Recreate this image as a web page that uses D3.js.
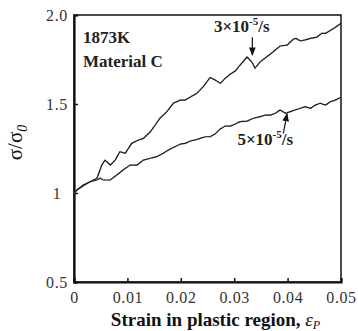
<!DOCTYPE html>
<html>
<head>
<meta charset="utf-8">
<script src="https://cdn.jsdelivr.net/npm/d3@7"></script>
<style>
  body { margin: 0; background: #fff; }
  #plot text { font-family: 'Liberation Serif', 'Times New Roman', serif; }
</style>
</head>
<body>
<div id="plot"></div>
<script>
// strain in plastic region and normalized stress
var strainA = [0, 0.0005, 0.0017, 0.0030, 0.0043, 0.0052, 0.0058, 0.0068, 0.0077, 0.0086, 0.0096, 0.0108, 0.0121, 0.0130,
  0.0143, 0.0152, 0.0161, 0.0174, 0.0186, 0.0199, 0.0208, 0.0218, 0.0230, 0.0242, 0.0255, 0.0264, 0.0274, 0.0283,
  0.0293, 0.0302, 0.0311, 0.0324, 0.0333, 0.0339, 0.0349, 0.0358, 0.0368, 0.0377, 0.0386, 0.0399, 0.0405, 0.0411,
  0.0416, 0.0424, 0.0433, 0.0443, 0.0455, 0.0464, 0.0471, 0.0480, 0.0489, 0.0500];
var stressA = [1.0, 1.017, 1.039, 1.063, 1.083, 1.157, 1.185, 1.157, 1.185, 1.232, 1.223, 1.279, 1.298, 1.307,
  1.344, 1.382, 1.420, 1.457, 1.504, 1.522, 1.522, 1.539, 1.560, 1.597, 1.649, 1.635, 1.616, 1.644,
  1.669, 1.685, 1.719, 1.764, 1.736, 1.702, 1.738, 1.758, 1.781, 1.803, 1.826, 1.831, 1.848, 1.865,
  1.868, 1.854, 1.860, 1.869, 1.876, 1.897, 1.897, 1.913, 1.930, 1.953];

var strainB = [0, 0.0002, 0.0017, 0.0030, 0.0043, 0.0049, 0.0055, 0.0068, 0.0080, 0.0092, 0.0105, 0.0118, 0.0130, 0.0143,
  0.0155, 0.0167, 0.0180, 0.0189, 0.0199, 0.0208, 0.0218, 0.0227, 0.0236, 0.0246, 0.0255, 0.0264, 0.0274, 0.0283,
  0.0293, 0.0302, 0.0311, 0.0324, 0.0336, 0.0349, 0.0358, 0.0368, 0.0377, 0.0386, 0.0396, 0.0405, 0.0414, 0.0424,
  0.0433, 0.0443, 0.0452, 0.0461, 0.0471, 0.0480, 0.0489, 0.0500];
var stressB = [1.0, 1.007, 1.045, 1.063, 1.073, 1.083, 1.073, 1.073, 1.101, 1.129, 1.157, 1.157, 1.185, 1.195,
  1.204, 1.223, 1.247, 1.260, 1.275, 1.279, 1.292, 1.298, 1.307, 1.316, 1.316, 1.331, 1.360, 1.376,
  1.376, 1.388, 1.401, 1.404, 1.420, 1.429, 1.438, 1.438, 1.448, 1.466, 1.448, 1.457, 1.466, 1.476,
  1.485, 1.476, 1.494, 1.504, 1.494, 1.513, 1.522, 1.538];

var xTicks = [0, 0.01, 0.02, 0.03, 0.04, 0.05];
var xTickLabels = ["0", "0.01", "0.02", "0.03", "0.04", "0.05"];
var yTicks = [0.5, 1, 1.5, 2.0];
var yTickLabels = ["0.5", "1", "1.5", "2.0"];

var serif = "'Liberation Serif', 'Times New Roman', serif";

var width = 358, height = 331;
var margin = {top: 15, right: 17, bottom: 49, left: 74};
var chartWidth = width - margin.left - margin.right;
var chartHeight = height - margin.top - margin.bottom;

var svg = d3.select("#plot").append("svg")
  .attr("width", width)
  .attr("height", height)
  .append("g")
  .attr("transform", "translate(" + margin.left + "," + margin.top + ")");

var scaleX = d3.scaleLinear().domain([0, 0.05]).range([0, chartWidth]);
var scaleY = d3.scaleLinear().domain([0.5, 2.0]).range([chartHeight, 0]);

// frame (top and right)
svg.append("rect")
  .attr("x", 0).attr("y", 0)
  .attr("width", chartWidth).attr("height", chartHeight)
  .attr("fill", "none").attr("stroke", "#111").attr("stroke-width", 1.5);

// x axis, ticks inward
var xAxis = svg.append("g")
  .attr("transform", "translate(0," + chartHeight + ")")
  .call(d3.axisBottom(scaleX).tickValues(xTicks).tickSize(-4).tickPadding(10)
    .tickFormat(function(d, i) { return xTickLabels[i]; }));
xAxis.select(".domain").attr("stroke", "#111").attr("stroke-width", 2.2);
xAxis.selectAll(".tick line").attr("stroke", "#111").attr("stroke-width", 1.5);
xAxis.selectAll("text")
  .style("font-family", serif).style("font-size", "16px")
  .attr("fill", "#333").attr("letter-spacing", "0.6px");

// y axis, ticks inward, labels centred
var yAxis = svg.append("g")
  .call(d3.axisLeft(scaleY).tickValues(yTicks).tickSize(-4)
    .tickFormat(function(d, i) { return yTickLabels[i]; }));
yAxis.select(".domain").attr("stroke", "#111").attr("stroke-width", 2.2);
yAxis.selectAll(".tick line").attr("stroke", "#111").attr("stroke-width", 1.5);
yAxis.selectAll("text")
  .attr("x", -17)
  .attr("text-anchor", "middle")
  .style("font-family", serif).style("font-size", "16px")
  .attr("fill", "#333").attr("letter-spacing", "0.6px");

// curves
var line = d3.line()
  .x(function(d) { return scaleX(d[0]); })
  .y(function(d) { return scaleY(d[1]); });

function draw(xs, ys) {
  var pts = xs.map(function(x, i) { return [x, ys[i]]; });
  svg.append("path").datum(pts)
    .attr("d", line)
    .attr("fill", "none")
    .attr("stroke", "#999")
    .attr("stroke-width", 1.6)
    .attr("stroke-dasharray", "1,1.5");
  svg.append("path").datum(pts)
    .attr("d", line)
    .attr("fill", "none")
    .attr("stroke", "#1a1a1a")
    .attr("stroke-width", 1.2);
}
draw(strainA, stressA);
draw(strainB, stressB);

// arrow marker
svg.append("defs").append("marker")
  .attr("id", "head")
  .attr("viewBox", "0 0 10 10")
  .attr("refX", 9).attr("refY", 5)
  .attr("markerWidth", 7).attr("markerHeight", 7)
  .attr("orient", "auto")
  .append("path").attr("d", "M0,1 L10,5 L0,9 Z").attr("fill", "#111");

// annotations
svg.append("text").attr("x", 9).attr("y", 28).attr("fill", "#222")
  .style("font-family", serif).style("font-size", "17px").style("font-weight", "bold").text("1873K");
svg.append("text").attr("x", 9).attr("y", 52).attr("fill", "#222")
  .style("font-family", serif).style("font-size", "17px").style("font-weight", "bold").text("Material C");

var lblA = svg.append("text").attr("x", scaleX(0.0262)).attr("y", scaleY(1.905)).attr("fill", "#222")
  .style("font-family", serif).style("font-size", "17px").style("font-weight", "bold");
lblA.append("tspan").text("3×10");
lblA.append("tspan").attr("dy", -7).style("font-size", "11px").text("-5");
lblA.append("tspan").attr("dy", 7).text("/s");
svg.append("line")
  .attr("x1", scaleX(0.0334)).attr("y1", scaleY(1.875))
  .attr("x2", scaleX(0.0334)).attr("y2", scaleY(1.775))
  .attr("stroke", "#111").attr("stroke-width", 1.2)
  .attr("marker-end", "url(#head)");

var lblB = svg.append("text").attr("x", scaleX(0.0306)).attr("y", scaleY(1.27)).attr("fill", "#222")
  .style("font-family", serif).style("font-size", "17px").style("font-weight", "bold");
lblB.append("tspan").text("5×10");
lblB.append("tspan").attr("dy", -7).style("font-size", "11px").text("-5");
lblB.append("tspan").attr("dy", 7).text("/s");
svg.append("line")
  .attr("x1", scaleX(0.0392)).attr("y1", scaleY(1.335))
  .attr("x2", scaleX(0.0399)).attr("y2", scaleY(1.445))
  .attr("stroke", "#111").attr("stroke-width", 1.2)
  .attr("marker-end", "url(#head)");

// axis titles
var xt = svg.append("text")
  .attr("x", chartWidth / 2 + 8).attr("y", chartHeight + 44)
  .attr("text-anchor", "middle").attr("fill", "#111")
  .style("font-family", serif).style("font-size", "19px").style("font-weight", "bold");
xt.append("tspan").text("Strain in plastic region, ");
xt.append("tspan").style("font-style", "italic").style("font-weight", "normal").text("ε");
xt.append("tspan").attr("dy", 3).style("font-size", "12px").style("font-style", "italic").style("font-weight", "normal").text("P");

var yt = svg.append("text")
  .attr("transform", "translate(-52," + (chartHeight / 2 - 6) + ") rotate(-90)")
  .attr("text-anchor", "middle").attr("fill", "#111")
  .style("font-family", serif).style("font-size", "21px");
yt.append("tspan").text("σ/σ");
yt.append("tspan").attr("dy", 5).style("font-size", "14px").style("font-style", "italic").text("0");
</script>
</body>
</html>
